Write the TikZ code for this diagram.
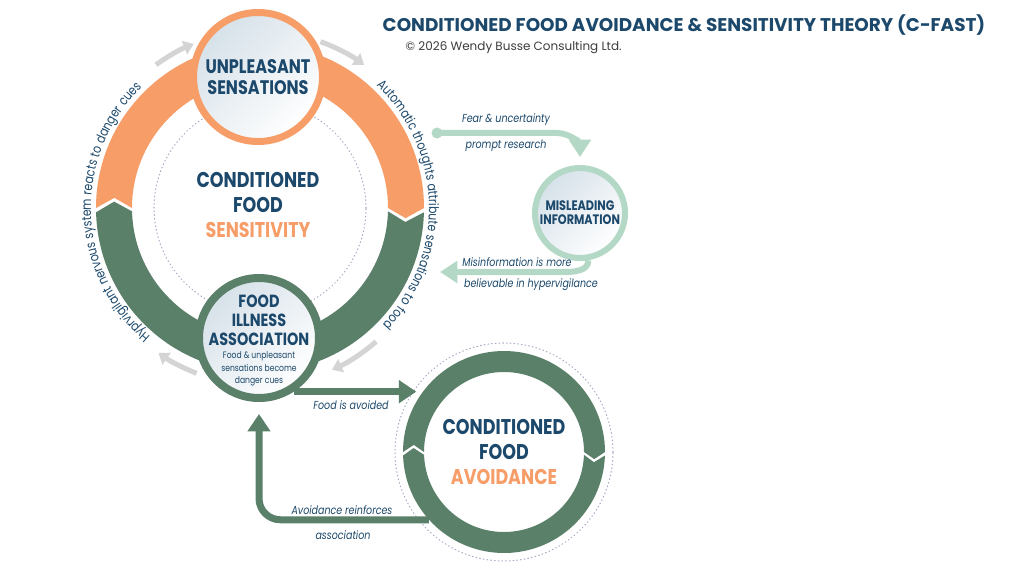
\documentclass[tikz,border=0pt]{standalone}
\usepackage{fontspec}
\setmainfont{Poppins}[FakeStretch=0.82]
\newfontfamily\widefont{Poppins}
\newfontfamily\arcfont{Poppins}[FakeStretch=0.82, LetterSpace=4]
\usetikzlibrary{arrows.meta,calc,decorations.text}
\definecolor{navy}{RGB}{27,72,107}
\definecolor{ringorange}{RGB}{246,157,104}
\definecolor{ringgreen}{RGB}{91,128,106}
\definecolor{mint}{RGB}{180,216,198}
\definecolor{arcgray}{RGB}{212,212,212}
\definecolor{dotgray}{RGB}{170,170,200}
\definecolor{bubblefill}{RGB}{214,225,233}
\definecolor{copygray}{RGB}{60,60,60}
\def\ringseg[#1](#2)(#3:#4:#5:#6:#7){\fill[#1] ($(#2)+(#3:#6)$) arc[start angle=#3, end angle=#4, radius=#6] -- ($(#2)+({#4-#7}:{(#5+#6)/2})$) -- ($(#2)+(#4:#5)$) arc[start angle=#4, end angle=#3, radius=#5] -- ($(#2)+({#3-#7}:{(#5+#6)/2})$) -- cycle;}

\begin{document}
\begin{tikzpicture}[x=0.75pt, y=0.75pt,
		bubble/.style={circle, draw, inner sep=0pt, align=center, text=navy, top color=bubblefill, bottom color=white, shading angle=45},
		ringlabel/.style={align=center, text=navy, font=\bfseries\fontsize{16}{18.5}\selectfont},
		note/.style={text=navy, font=\itshape\fontsize{8.7}{10}\selectfont},
		grnarrow/.style={draw=ringgreen, line width=5.25pt, -{Triangle[length=13pt, width=16.5pt]}},
		mintarrow/.style={draw=mint, line width=4.5pt, -{Triangle[length=13pt, width=16pt]}},
		grayarc/.style={draw=arcgray, line width=3.75pt, -{Triangle[length=7.5pt, width=10.5pt]}},
		dotring/.style={draw=dotgray, line width=0.8pt, dash pattern=on 0.6pt off 2.2pt, line cap=round}]
		%%%%% START %%%%%
		
		\fill[white] (0,0) rectangle (1024,576);
		\useasboundingbox (0,0) rectangle (1024,576);
		
		\draw[dotring] (260,368) circle[radius=106];
		\draw[dotring] (504,124) circle[radius=109];
		
		\ringseg[ringorange](260,368)(180:0:128:164:4)
		\ringseg[ringgreen](260,368)(358.5:181.5:128:164:4)
		\ringseg[ringgreen](504,124)(180:0:80:101:4.5)
		\ringseg[ringgreen](504,124)(358:182:80:101:4.5)
		
		\begin{scope}[shift={(260,368)}]
			\foreach \a/\b in {126/112, 70/54, -49/-66, 249/235}
				\draw[grayarc] (\a:177) arc[start angle=\a, end angle=\b, radius=177];
			\path[decorate, decoration={text along path, text align=center, text color=navy,
				text={|\arcfont\fontsize{10}{12}\selectfont|Hyprvigilant nervous system reacts to danger cues}}]
				(252:169) arc[start angle=252, end angle=112, radius=169];
			\path[decorate, decoration={text along path, text align=center, text color=navy,
				text={|\arcfont\fontsize{10}{12}\selectfont|Automatic thoughts attribute sensations to food}}]
				(71:169) arc[start angle=71, end angle=-68, radius=169];
		\end{scope}
		
		\node[bubble, draw=ringorange, line width=5.25pt, minimum size=96.75pt, font=\bfseries\fontsize{14.7}{15.75}\selectfont] (unp) at (258,499) {UNPLEASANT\\SENSATIONS};
		\node[bubble, draw=ringgreen, line width=6pt, minimum size=90pt] (fia) at (259,238) {};
		\node[text=navy, align=center, font=\bfseries\fontsize{13.2}{14.4}\selectfont] (fiahead) at (259,256) {FOOD\\ILLNESS\\ASSOCIATION};
		\node[text=navy, align=center, font=\fontsize{7}{9.6}\selectfont] (fianote) at (259,207) {Food \& unpleasant\\sensations become\\danger cues};
		\node[bubble, draw=mint, line width=4.5pt, minimum size=67.5pt, font=\bfseries\fontsize{10.3}{10.5}\selectfont] (mis) at (580,363) {MISLEADING\\INFORMATION};
		
		\node[ringlabel] (sens) at (258,371) {CONDITIONED\\FOOD\\\textcolor{ringorange}{SENSITIVITY}};
		\node[ringlabel, circle, inner sep=0pt, minimum size=151.5pt] (avd) at (504,124) {CONDITIONED\\FOOD\\\textcolor{ringorange}{AVOIDANCE}};
		
		% mint loop
		\coordinate (fearstart) at (437,443);
		\coordinate (misend) at (440,304);
		\fill[mint] (fearstart) circle[radius=5.5];
		\draw[mintarrow] (fearstart) -- (557,443) to[out=0, in=90] ([yshift=6pt]mis.north);
		\draw[mintarrow] (mis.-80) to[out=-90, in=0] (562,304) -- (misend);
		
		% avoidance loop
		\draw[grnarrow] (fia.-57) -- (fia.-57 -| avd.150);
		\draw[grnarrow, rounded corners=16pt] (avd.222) -| ([yshift=-9pt]fia.south);
		
		\node[note] (fearlbl) at (506,456) {Fear \& uncertainty};
		\node[note] (promptlbl) at (506,430) {prompt research};
		\node[note] (mislbl) at (517,314) {Misinformation is more};
		\node[note] (belieflbl) at (531,291) {believable in hypervigilance};
		\node[note] (avoidlbl) at (351,171) {Food is avoided};
		\node[note] (reinflbl) at (342,66) {Avoidance reinforces};
		\node[note] (assoclbl) at (343,41) {association};
		
		\node[text=navy, font=\widefont\bfseries\fontsize{13.8}{16}\selectfont] (title) at (684,551) {CONDITIONED FOOD AVOIDANCE \& SENSITIVITY THEORY (C-FAST)};
		\node[anchor=west, text=copygray, font=\widefont\fontsize{9}{12}\selectfont] (copy) at (401,528) {© 2026 Wendy Busse Consulting Ltd.};
		
		%%%%% END %%%%%
\end{tikzpicture}
\end{document}
